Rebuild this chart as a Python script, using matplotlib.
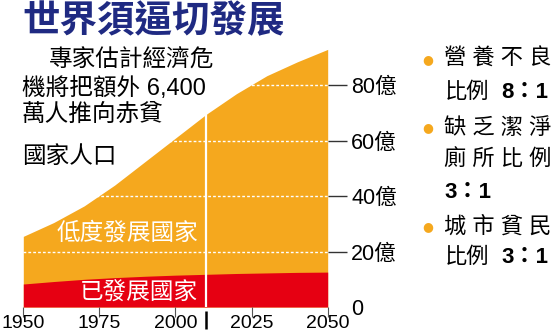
import matplotlib
matplotlib.use("Agg")
import matplotlib.pyplot as plt
import numpy as np

# world population (hundred millions)
years = [1950, 1960, 1970, 1980, 1990, 2000, 2010, 2020, 2030, 2040, 2050]
total_pop = [25.5, 30.5, 36.5, 44.0, 52.5, 61.0, 69.5, 77.0, 83.5, 88.5, 93.0]
developed_pop = [8.3, 9.2, 10.0, 10.6, 11.1, 11.5, 11.8, 12.1, 12.3, 12.5, 12.6]

xticks = [1950, 1975, 2000, 2025, 2050]
yticks = [0, 20, 40, 60, 80]
ytick_labels = ["0", "20億", "40億", "60億", "80億"]
split_year = 2010

title = "世界須逼切發展"
note_lines = ["專家估計經濟危", "機將把額外 6,400", "萬人推向赤貧", "國家人口"]
label_low = "低度發展國家"
label_dev = "已發展國家"

ORANGE = "#f5a81e"
RED = "#e60012"
NAVY = "#1f2a82"
fonts = ["Liberation Sans", "Noto Sans CJK TC", "DejaVu Sans"]
plt.rcParams["font.family"] = fonts

fig = plt.figure(figsize=(5.59, 3.36), dpi=100)
ax = fig.add_axes([0.0417, 0.0863, 0.5445, 0.8244])

ax.fill_between(years, 0, total_pop, color=ORANGE, lw=0)
ax.fill_between(years, 0, developed_pop, color=RED, lw=0)

# white dotted gridlines
for y in yticks[1:]:
    ax.axhline(y, color="white", lw=1.0, ls=(0, (2, 1.5)), zorder=3)

# projection divider
top_split = np.interp(split_year, years, total_pop)
ax.plot([split_year, split_year], [0, top_split], color="white", lw=1.6, zorder=4)
ax.plot([split_year, split_year], [-1.5, -8], color="black", lw=1.8,
        clip_on=False, solid_capstyle="butt")

ax.set_xlim(1950, 2050)
ax.set_ylim(0, 100)
for s in ax.spines.values():
    s.set_visible(False)

ax.set_xticks(xticks)
ax.set_xticklabels([str(x) for x in xticks], fontsize=14)
ax.tick_params(axis="x", length=7, width=0.8, color="#555555", pad=-1)

ax.yaxis.tick_right()
ax.set_yticks(yticks)
ax.set_yticklabels(ytick_labels, fontsize=15.5, ha="left")
ax.tick_params(axis="y", length=14, width=1.0, color="#333333", pad=3)
ax.yaxis.get_major_ticks()[0].tick2line.set_visible(False)

ax.text(2007.5, 26.7, label_low, color="white", fontsize=17, ha="right", va="center", zorder=5)
ax.text(2007.5, 4.7, label_dev, color="white", fontsize=17, ha="right", va="center", zorder=5)

# title and note
fig.text(0.04, 0.933, title, color=NAVY, fontsize=27, fontweight="bold",
         ha="left", va="center")
note_y = [0.821, 0.738, 0.658, 0.533]
note_x = [0.087, 0.039, 0.039, 0.039]
for x, y, line in zip(note_x, note_y, note_lines):
    fig.text(x, y, line, fontsize=17, ha="left", va="center")

# right side bullet list
tx = 0.795
bold_x = 0.897
bullets = [
    (0.824, "營 養 不 良", None),
    (0.725, "比例", "8：1"),
    (0.619, "缺 乏 潔 淨", None),
    (0.524, "廁 所 比 例", None),
    (0.426, None, "3：1"),
    (0.325, "城 市 貧 民", None),
    (0.235, "比例", "3：1"),
]
for y, plain, strong in bullets:
    if plain:
        fig.text(tx, y, plain, fontsize=16, ha="left", va="center")
    if strong:
        fig.text(bold_x if plain else tx, y, strong, fontsize=16,
                 fontweight="bold", ha="left", va="center")
for y in [0.824, 0.619, 0.325]:
    fig.text(0.766, y, "●", color=ORANGE, fontsize=9, ha="center", va="center",
             family=["DejaVu Sans"])

fig.savefig("out.png", dpi=100)
